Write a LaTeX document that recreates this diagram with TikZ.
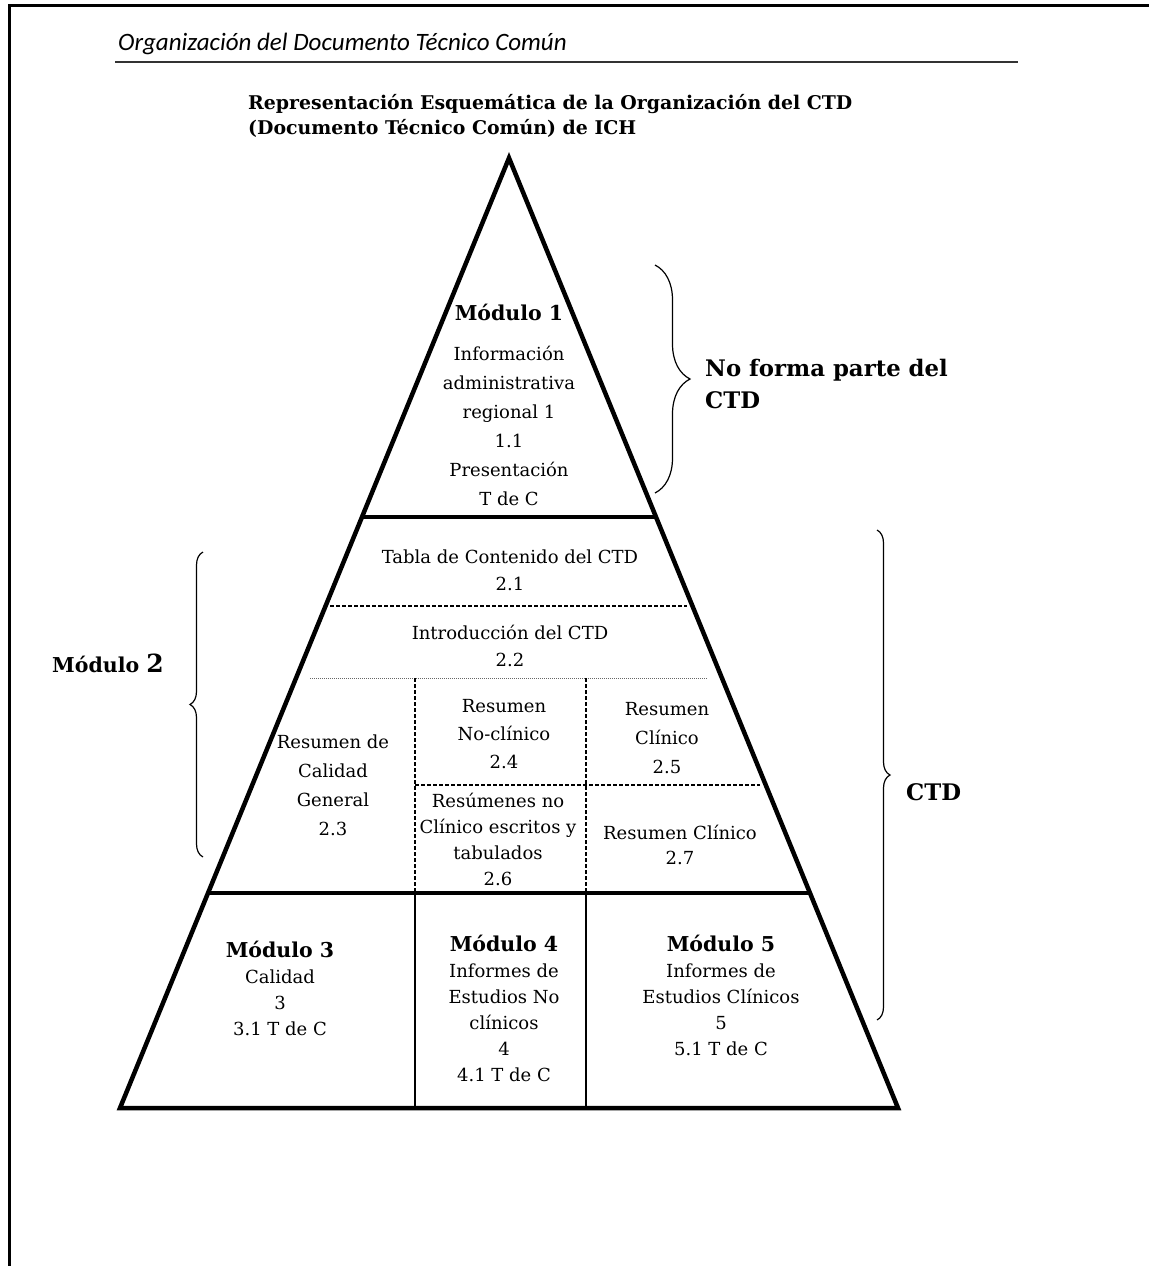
\documentclass[tikz,border=0pt]{standalone}
\usepackage{fontspec}
\setmainfont{DejaVu Serif}
\newfontfamily\headfont{Carlito}
\usetikzlibrary{calc,decorations.pathreplacing}

\newcommand\ctdbody{\fontsize{18}{27}\selectfont}
\newcommand\ctdmod{\fontsize{20.5}{27}\selectfont\bfseries}
\newcommand\ctdtitle{\fontsize{18.9}{25}\selectfont\bfseries}
\newcommand\ctdnote{\fontsize{22.8}{32}\selectfont\bfseries}

\begin{document}
\begin{tikzpicture}[x=1pt,y=-1pt]

\tikzset{
  txt/.style={align=center, inner sep=0pt, font=\ctdbody},
  outline/.style={line width=4.5pt, line join=miter},
  sep/.style={line width=4.5pt},
  cell/.style={line width=1.2pt, dash pattern=on 4pt off 2pt},
  fine/.style={line width=1pt, densely dotted, black!60},
  rule/.style={line width=1.3pt},
  bracket/.style={decorate, decoration={brace, amplitude=#1}, line width=1.2pt},
}

\useasboundingbox (0,0) rectangle (1149,1266);

% page frame and running head
\draw[line width=3pt] (9,1266) -- (9,5) -- (1149,5);
\node[anchor=base west, inner sep=0pt, font=\headfont\itshape\fontsize{25}{28}\selectfont] (head) at (118,50) {Organización del Documento Técnico Común};
\coordinate (ruleL) at (115,62);
\coordinate (ruleR) at (1018,62);
\draw[line width=2pt, black!80] (ruleL) -- (ruleR);

% title
\node[anchor=west, align=left, inner sep=0pt, font=\ctdtitle] (title) at (248,116)
  {Representación Esquemática de la Organización del CTD\\(Documento Técnico Común) de ICH};

% -----------------------------------------
% pyramid corners
% -----------------------------------------
\coordinate (apex) at (509,158);
\coordinate (bl)   at (120,1108);
\coordinate (br)   at (898,1108);
\coordinate (m1l)  at (363,517);
\coordinate (m1r)  at (655,517);
\coordinate (m2l)  at (209,893);
\coordinate (m2r)  at (809,893);

\draw[outline] (apex) -- (bl) -- (br) -- cycle;
\draw[sep] (m1l) -- (m1r);
\draw[sep] (m2l) -- (m2r);

% module 2 inner cells
\coordinate (d1l) at (330,606);
\coordinate (d1r) at (687,606);
\coordinate (d2l) at (310,678);
\coordinate (d2r) at (707,678);
\coordinate (va)  at (415,678);
\coordinate (vb)  at (586,678);
\coordinate (vab) at (415,893);
\coordinate (vbb) at (586,893);
\coordinate (hm)  at (415,785);
\coordinate (hr)  at (760,785);

\draw[cell] (d1l) -- (d1r);
\draw[fine] (d2l) -- (d2r);
\draw[cell] (va) -- (vab);
\draw[cell] (vb) -- (vbb);
\draw[cell] (hm) -- (hr);

% modules 3-5 dividers
\coordinate (s3) at (415,1108);
\coordinate (s4) at (586,1108);
\draw[rule] (vab) -- (s3);
\draw[rule] (vbb) -- (s4);

% -----------------------------------------
% texts inside the pyramid
% -----------------------------------------
\node[txt] (mod1) at (509,405) {{\ctdmod Módulo 1}\\[13pt]Información\\[2pt]administrativa\\[2pt]regional 1\\[2pt]1.1\\[2pt]Presentación\\[2pt]T de C};

\node[txt] (toc) at (510,570) {Tabla de Contenido del CTD\\2.1};
\node[txt] (intro) at (510,646) {Introducción del CTD\\2.2};

\node[txt] (qos) at (333,785) {Resumen de\\[2pt]Calidad\\[2pt]General\\[2pt]2.3};
\node[txt] (nonclin) at (504,734) {Resumen\\[1pt]No-clínico\\[1pt]2.4};
\node[txt] (clin) at (667,738) {Resumen\\[2pt]Clínico\\[2pt]2.5};
\node[txt] (nctab) at (498,839) {Resúmenes no\\[-1pt]Clínico escritos y\\[-1pt]tabulados\\[-1pt]2.6};
\node[txt] (clinsum) at (680,845) {Resumen Clínico\\[-2pt]2.7};

\node[txt] (mod3) at (280,988) {{\ctdmod Módulo 3}\\[-1pt]Calidad\\[-1pt]3\\[-1pt]3.1 T de C};
\node[txt] (mod4) at (504,1008) {{\ctdmod Módulo 4}\\[-1pt]Informes de\\[-1pt]Estudios No\\[-1pt]clínicos\\[-1pt]4\\[-1pt]4.1 T de C};
\node[txt] (mod5) at (721,995) {{\ctdmod Módulo 5}\\[-1pt]Informes de\\[-1pt]Estudios Clínicos\\[-1pt]5\\[-1pt]5.1 T de C};

% -----------------------------------------
% braces and side labels
% -----------------------------------------
\coordinate (b1t) at (655,265);
\coordinate (b1b) at (655,493);
\draw[bracket=35pt] (b1t) -- (b1b);
\node[anchor=west, align=left, inner sep=0pt, font=\ctdnote] (notctd) at (705,384) {No forma parte del\\CTD};

\coordinate (b2t) at (203,552);
\coordinate (b2b) at (203,857);
\draw[bracket=13pt] (b2b) -- (b2t);
\node[anchor=west, inner sep=0pt, font=\ctdmod] (mod2) at (52,663) {Módulo {\fontsize{25}{28}\selectfont 2}};

\coordinate (b3t) at (877,530);
\coordinate (b3b) at (877,1020);
\draw[bracket=13pt] (b3t) -- (b3b);
\node[anchor=west, inner sep=0pt, font=\ctdnote] (ctd) at (906,792) {CTD};

\end{tikzpicture}
\end{document}
